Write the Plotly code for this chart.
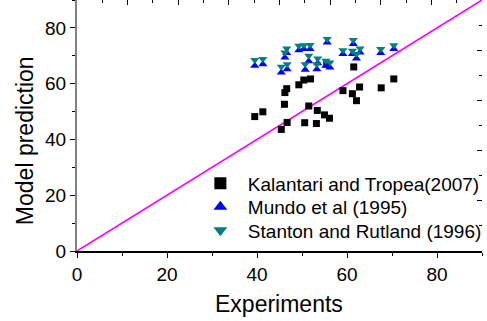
import plotly.graph_objects as go

# Kalantari and Tropea (2007)
kt_x = [39.5, 41.3, 45.4, 46.7, 46.1, 46.2, 46.6, 49.3, 50.4, 51.9, 50.6, 51.5,
        53.4, 53.2, 55.0, 56.1, 59.1, 61.2, 62.1, 62.8, 61.5, 67.6, 70.4, 55.5]
kt_y = [48.2, 49.9, 43.6, 46.1, 52.6, 56.8, 58.2, 59.6, 61.3, 61.7, 46.0, 52.0,
        50.4, 45.7, 48.8, 47.6, 57.5, 56.4, 53.9, 58.8, 66.0, 58.5, 61.7, 67.0]

# Mundo et al (1995)
mu_x = [39.5, 41.3, 45.4, 46.7, 46.2, 46.6, 49.3, 50.4, 51.8, 51.5, 50.7, 53.5,
        53.3, 55.6, 55.3, 56.2, 59.1, 61.4, 61.2, 62.1, 62.9, 67.5, 70.4]
mu_y = [66.4, 67.0, 64.0, 65.2, 69.4, 71.0, 72.0, 72.4, 72.4, 68.0, 65.0, 67.3,
        65.2, 74.8, 66.4, 65.8, 70.6, 74.2, 70.6, 69.0, 71.2, 71.0, 72.4]

# Stanton and Rutland (1996)
sr_x = mu_x
sr_y = [68.5, 68.8, 66.1, 67.0, 71.2, 72.6, 73.6, 73.8, 73.9, 70.0, 67.0, 69.0,
        67.0, 76.0, 68.2, 67.6, 72.0, 75.7, 71.8, 70.6, 72.6, 72.4, 73.8]

# y = x reference line
diag = [0, 90]

FONT = "Arial, Liberation Sans, sans-serif"

fig = go.Figure()
fig.add_trace(go.Scatter(x=diag, y=diag, mode="lines",
                         line=dict(color="#ff00ff", width=1.6), showlegend=False))
fig.add_trace(go.Scatter(x=kt_x, y=kt_y, mode="markers", name="Kalantari and Tropea(2007)",
                         legend="legend",
                         marker=dict(symbol="square", size=7, color="black")))
fig.add_trace(go.Scatter(x=mu_x, y=mu_y, mode="markers", name="Mundo et al (1995)",
                         legend="legend2",
                         marker=dict(symbol="triangle-up", size=8, color="#0000ff")))
fig.add_trace(go.Scatter(x=sr_x, y=sr_y, mode="markers", name="Stanton and Rutland (1996)",
                         legend="legend3",
                         marker=dict(symbol="triangle-down", size=8, color="#008080")))
fig.add_trace(go.Scatter(x=[], y=[], xaxis="x2", yaxis="y2", showlegend=False,
                         hoverinfo="skip"))

PW, PH, L0 = 410, 251, 77
leg_left = 194.3


def legend_at(row_y):
    return dict(x=(leg_left - L0) / PW, xanchor="left",
                y=(PH - row_y) / PH, yanchor="middle",
                bgcolor="rgba(0,0,0,0)", borderwidth=0,
                font=dict(size=19, family=FONT, color="black"),
                itemwidth=45, itemsizing="constant")


fig.update_layout(
    width=487, height=321,
    margin=dict(l=77, r=0, t=0, b=70),
    paper_bgcolor="white", plot_bgcolor="white",
    font=dict(family=FONT, color="black"),
    showlegend=True,
    legend=legend_at(183.5),
    legend2=legend_at(207.0),
    legend3=legend_at(230.5),
    xaxis=dict(range=[0, 90], dtick=20, tick0=0, ticks="outside", ticklen=5,
               tickcolor="black", tickwidth=1,
               minor=dict(dtick=10, ticks="outside", ticklen=3, tickcolor="black"),
               showline=True, linecolor="black", linewidth=1.5,
               showgrid=False, zeroline=False,
               tickfont=dict(size=19, family=FONT)),
    yaxis=dict(range=[0, 90], dtick=20, tick0=0, ticks="outside", ticklen=5,
               tickcolor="black", tickwidth=1,
               minor=dict(dtick=10, ticks="outside", ticklen=3, tickcolor="black"),
               showline=True, linecolor="#808080", linewidth=2,
               showgrid=False, zeroline=False,
               tickfont=dict(size=19, family=FONT)),
    xaxis2=dict(overlaying="x", side="top", range=[0, 8], dtick=1, ticks="inside",
                ticklen=5, tickcolor="black",
                minor=dict(dtick=0.5, ticks="inside", ticklen=3, tickcolor="black"),
                showticklabels=False, showline=False, showgrid=False, zeroline=False),
    yaxis2=dict(overlaying="y", side="right", range=[0, 5], dtick=1, ticks="inside",
                ticklen=5, tickcolor="black",
                minor=dict(dtick=0.5, ticks="inside", ticklen=3, tickcolor="black"),
                showticklabels=False, showline=False, showgrid=False, zeroline=False),
    annotations=[
        dict(text="Experiments", xref="paper", yref="paper", x=(281.7 - L0) / PW,
             y=(PH - 304) / PH,
             xanchor="center", yanchor="middle", showarrow=False,
             font=dict(size=23, family=FONT)),
        dict(text="Model prediction", xref="paper", yref="paper",
             x=(24 - L0) / PW, y=(PH - 140.5) / PH, textangle=-90,
             xanchor="center", yanchor="middle", showarrow=False,
             font=dict(size=23, family=FONT)),
    ],
)

fig.write_html("out.html")
